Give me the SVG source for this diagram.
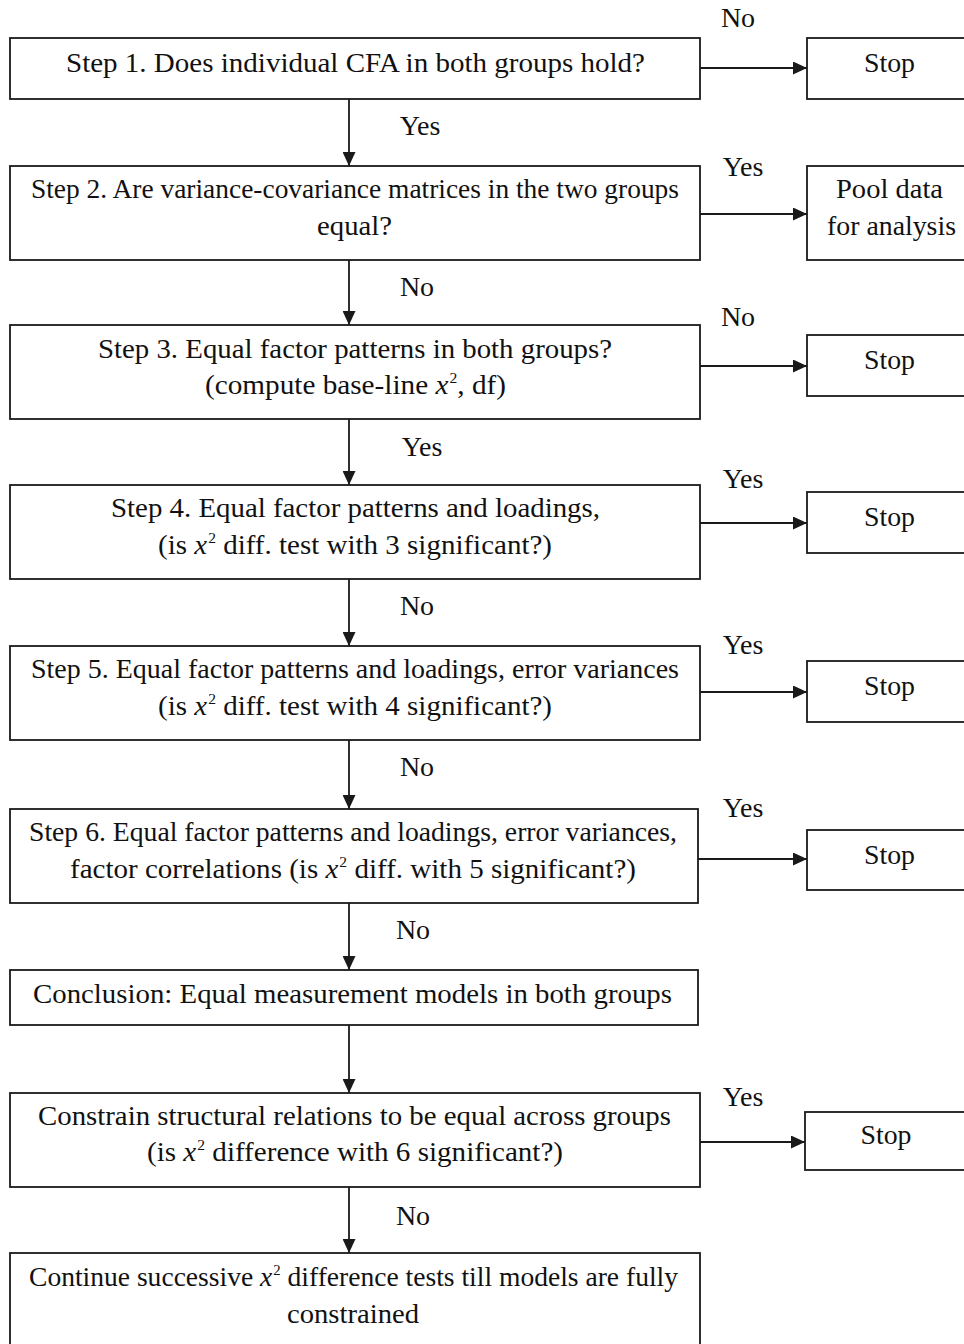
<svg xmlns="http://www.w3.org/2000/svg" width="964" height="1344" viewBox="0 0 964 1344">
<style>
.box{fill:#fff;stroke:#1a1a1a;stroke-width:1.8}
.t{font-family:"Liberation Serif","Times New Roman",serif;font-size:28px;fill:#111;text-anchor:middle}
.lbl{font-family:"Liberation Serif","Times New Roman",serif;font-size:28px;fill:#111;text-anchor:middle}
.c{stroke:#1a1a1a;stroke-width:1.8;fill:none;marker-end:url(#ah)}
.sup{font-size:15px}
</style>
<defs>
<marker id="ah" markerUnits="userSpaceOnUse" markerWidth="14" markerHeight="13" refX="14" refY="6.5" orient="auto">
<path d="M0,0 L14,6.5 L0,13 z" fill="#1a1a1a"/>
</marker>
</defs>
<rect width="964" height="1344" fill="#fff"/>
<g id="connectors">
<line class="c" x1="349" y1="99" x2="349" y2="166"/>
<line class="c" x1="349" y1="260" x2="349" y2="325"/>
<line class="c" x1="349" y1="419" x2="349" y2="485"/>
<line class="c" x1="349" y1="579" x2="349" y2="646"/>
<line class="c" x1="349" y1="740" x2="349" y2="809"/>
<line class="c" x1="349" y1="903" x2="349" y2="970"/>
<line class="c" x1="349" y1="1025" x2="349" y2="1093"/>
<line class="c" x1="349" y1="1187" x2="349" y2="1253"/>
<line class="c" x1="700" y1="68" x2="807" y2="68"/>
<line class="c" x1="700" y1="214" x2="807" y2="214"/>
<line class="c" x1="700" y1="366" x2="807" y2="366"/>
<line class="c" x1="700" y1="523" x2="807" y2="523"/>
<line class="c" x1="700" y1="692" x2="807" y2="692"/>
<line class="c" x1="698" y1="859" x2="807" y2="859"/>
<line class="c" x1="700" y1="1142" x2="805" y2="1142"/>
<text class="lbl" x="420" y="135">Yes</text>
<text class="lbl" x="417" y="296">No</text>
<text class="lbl" x="422" y="456">Yes</text>
<text class="lbl" x="417" y="615">No</text>
<text class="lbl" x="417" y="776">No</text>
<text class="lbl" x="413" y="939">No</text>
<text class="lbl" x="413" y="1225">No</text>
<text class="lbl" x="738" y="27">No</text>
<text class="lbl" x="743" y="176">Yes</text>
<text class="lbl" x="738" y="326">No</text>
<text class="lbl" x="743" y="488">Yes</text>
<text class="lbl" x="743" y="654">Yes</text>
<text class="lbl" x="743" y="817">Yes</text>
<text class="lbl" x="743" y="1106">Yes</text>
</g>
<g id="step1">
<rect class="box" x="10" y="38" width="690" height="61"/>
<text class="t" x="355.5" y="72" textLength="579" lengthAdjust="spacingAndGlyphs">Step 1. Does individual CFA in both groups hold?</text>
</g>
<g id="step2">
<rect class="box" x="10" y="166" width="690" height="94"/>
<text class="t" x="355" y="198" textLength="648" lengthAdjust="spacingAndGlyphs">Step 2. Are variance-covariance matrices in the two groups</text>
<text class="t" x="354.5" y="235" textLength="75" lengthAdjust="spacingAndGlyphs">equal?</text>
</g>
<g id="step3">
<rect class="box" x="10" y="325" width="690" height="94"/>
<text class="t" x="355" y="358" textLength="514" lengthAdjust="spacingAndGlyphs">Step 3. Equal factor patterns in both groups?</text>
<text class="t" x="355.5" y="394" textLength="301" lengthAdjust="spacingAndGlyphs">(compute base-line <tspan font-style="italic">x</tspan><tspan class="sup" dx="1" dy="-11">2</tspan><tspan dy="11">, df)</tspan></text>
</g>
<g id="step4">
<rect class="box" x="10" y="485" width="690" height="94"/>
<text class="t" x="355.5" y="517" textLength="489" lengthAdjust="spacingAndGlyphs">Step 4. Equal factor patterns and loadings,</text>
<text class="t" x="355" y="554" textLength="394" lengthAdjust="spacingAndGlyphs">(is <tspan font-style="italic">x</tspan><tspan class="sup" dx="1" dy="-11">2</tspan><tspan dy="11"> diff. test with 3 significant?)</tspan></text>
</g>
<g id="step5">
<rect class="box" x="10" y="646" width="690" height="94"/>
<text class="t" x="355" y="678" textLength="648" lengthAdjust="spacingAndGlyphs">Step 5. Equal factor patterns and loadings, error variances</text>
<text class="t" x="355" y="715" textLength="394" lengthAdjust="spacingAndGlyphs">(is <tspan font-style="italic">x</tspan><tspan class="sup" dx="1" dy="-11">2</tspan><tspan dy="11"> diff. test with 4 significant?)</tspan></text>
</g>
<g id="step6">
<rect class="box" x="10" y="809" width="688" height="94"/>
<text class="t" x="353" y="841" textLength="648" lengthAdjust="spacingAndGlyphs">Step 6. Equal factor patterns and loadings, error variances,</text>
<text class="t" x="353" y="878" textLength="566" lengthAdjust="spacingAndGlyphs">factor correlations (is <tspan font-style="italic">x</tspan><tspan class="sup" dx="1" dy="-11">2</tspan><tspan dy="11"> diff. with 5 significant?)</tspan></text>
</g>
<g id="conclusion">
<rect class="box" x="10" y="970" width="688" height="55"/>
<text class="t" x="352.5" y="1003" textLength="639" lengthAdjust="spacingAndGlyphs">Conclusion: Equal measurement models in both groups</text>
</g>
<g id="constrain">
<rect class="box" x="10" y="1093" width="690" height="94"/>
<text class="t" x="354.5" y="1125" textLength="633" lengthAdjust="spacingAndGlyphs">Constrain structural relations to be equal across groups</text>
<text class="t" x="355" y="1161" textLength="416" lengthAdjust="spacingAndGlyphs">(is <tspan font-style="italic">x</tspan><tspan class="sup" dx="1" dy="-11">2</tspan><tspan dy="11"> difference with 6 significant?)</tspan></text>
</g>
<g id="continue">
<rect class="box" x="10" y="1253" width="690" height="100"/>
<text class="t" x="353.5" y="1286" textLength="649" lengthAdjust="spacingAndGlyphs">Continue successive <tspan font-style="italic">x</tspan><tspan class="sup" dx="1" dy="-11">2</tspan><tspan dy="11"> difference tests till models are fully</tspan></text>
<text class="t" x="353" y="1323" textLength="132" lengthAdjust="spacingAndGlyphs">constrained</text>
</g>
<g id="stop1">
<rect class="box" x="807" y="38" width="170" height="61"/>
<text class="t" x="889.5" y="72" textLength="51" lengthAdjust="spacingAndGlyphs">Stop</text>
</g>
<g id="pool">
<rect class="box" x="807" y="166" width="170" height="94"/>
<text class="t" x="889.5" y="198" textLength="107" lengthAdjust="spacingAndGlyphs">Pool data</text>
<text class="t" x="891.5" y="235" textLength="129" lengthAdjust="spacingAndGlyphs">for analysis</text>
</g>
<g id="stop3">
<rect class="box" x="807" y="335" width="170" height="61"/>
<text class="t" x="889.5" y="369" textLength="51" lengthAdjust="spacingAndGlyphs">Stop</text>
</g>
<g id="stop4">
<rect class="box" x="807" y="492" width="170" height="61"/>
<text class="t" x="889.5" y="526" textLength="51" lengthAdjust="spacingAndGlyphs">Stop</text>
</g>
<g id="stop5">
<rect class="box" x="807" y="661" width="170" height="61"/>
<text class="t" x="889.5" y="695" textLength="51" lengthAdjust="spacingAndGlyphs">Stop</text>
</g>
<g id="stop6">
<rect class="box" x="807" y="830" width="170" height="60"/>
<text class="t" x="889.5" y="864" textLength="51" lengthAdjust="spacingAndGlyphs">Stop</text>
</g>
<g id="stop7">
<rect class="box" x="805" y="1112" width="170" height="58"/>
<text class="t" x="886" y="1144" textLength="51" lengthAdjust="spacingAndGlyphs">Stop</text>
</g>
</svg>
